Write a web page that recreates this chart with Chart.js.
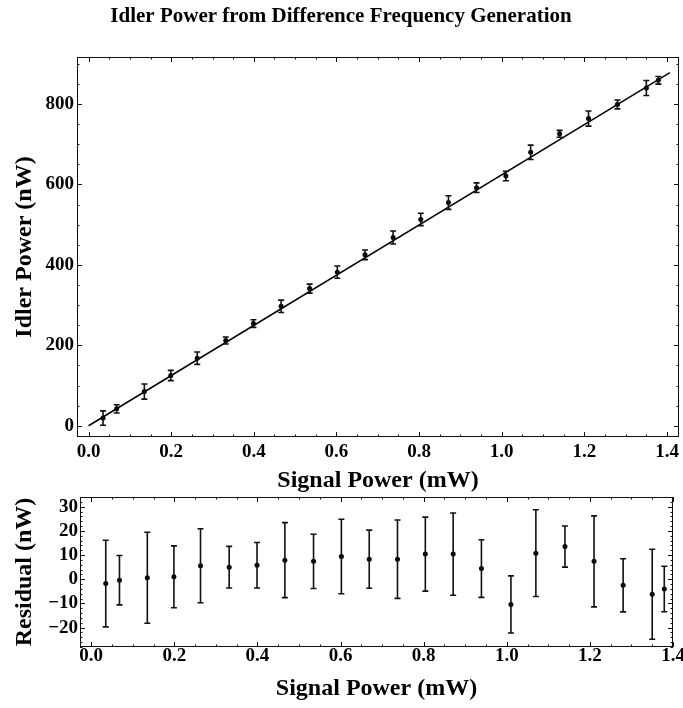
<!DOCTYPE html>
<html>
<head>
<meta charset="utf-8">
<script src="https://cdn.jsdelivr.net/npm/chart.js@4"></script>
<style>
body { margin: 0; background: #fff; }
canvas { position: absolute; left: 0; }
#idler-chart { top: 0; }
#residual-chart { top: 490px; }
</style>
</head>
<body>
<canvas id="idler-chart" width="683" height="500"></canvas>
<canvas id="residual-chart" width="683" height="218"></canvas>
<script>
// measured points (signal in mW, idler in nW)
const signalPower = [0.035, 0.068, 0.135, 0.199, 0.263, 0.332, 0.399, 0.466, 0.535, 0.602, 0.669,
                     0.737, 0.804, 0.871, 0.939, 1.010, 1.070, 1.140, 1.210, 1.280, 1.350, 1.379];
const idlerPower = [19, 42, 85, 125, 168, 212, 254, 297, 341, 382, 425,
                    468, 513, 555, 592, 621, 680, 726, 764, 799, 840, 859];
const residual = [-1.8, -0.4, 0.6, 1.0, 5.6, 5.0, 5.8, 7.9, 7.4, 9.4, 8.3,
                  8.3, 10.4, 10.4, 4.4, -10.4, 10.8, 13.5, 7.4, -2.5, -6.2, -4.0];
const measurementError = [17.9, 10.2, 18.8, 12.8, 15.3, 8.6, 9.4, 15.5, 11.2, 15.4, 12.0,
                          16.2, 15.3, 17.0, 11.9, 11.8, 17.9, 8.5, 18.8, 11.0, 18.6, 9.4];

// fitted line endpoints
const fitSignal = [0, 1.407];
const fitIdler = [0, 878];

// tick labels
const signalTicks = [0, 0.2, 0.4, 0.6, 0.8, 1.0, 1.2, 1.4];
const idlerTicks = [0, 200, 400, 600, 800];
const residualTicks = [-20, -10, 0, 10, 20, 30];

const serif = "'Liberation Serif', 'DejaVu Serif', serif";

function setTicks(list) {
    return scale => { scale.ticks = list.map(v => ({value: v})); };
}

// box round the plot with inward ticks on all four sides
const frame = {
    id: 'frame',
    afterDraw(chart, args, opts) {
        const {ctx, chartArea: a, scales: {x, y}} = chart;
        ctx.save();
        ctx.strokeStyle = '#111';
        ctx.lineWidth = 1;
        ctx.strokeRect(a.left + 0.5, a.top + 0.5, a.right - a.left - 1, a.bottom - a.top - 1);
        ctx.beginPath();
        for (let k = Math.ceil(x.min / opts.xMinor); k * opts.xMinor <= x.max + 1e-9; k++) {
            const v = k * opts.xMinor;
            const major = x.ticks.some(t => Math.abs(t.value - v) < 1e-6);
            const len = major ? 5 : 2.5;
            const px = Math.round(x.getPixelForValue(v)) + 0.5;
            ctx.moveTo(px, a.bottom); ctx.lineTo(px, a.bottom - len);
            ctx.moveTo(px, a.top); ctx.lineTo(px, a.top + len);
        }
        for (let k = Math.ceil(y.min / opts.yMinor); k * opts.yMinor <= y.max + 1e-9; k++) {
            const v = k * opts.yMinor;
            const major = y.ticks.some(t => Math.abs(t.value - v) < 1e-6);
            const len = major ? 5 : 2.5;
            const py = Math.round(y.getPixelForValue(v)) + 0.5;
            ctx.moveTo(a.left, py); ctx.lineTo(a.left + len, py);
            ctx.moveTo(a.right, py); ctx.lineTo(a.right - len, py);
        }
        ctx.stroke();
        ctx.restore();
    }
};

const errorBars = {
    id: 'errorBars',
    afterDatasetsDraw(chart) {
        const {ctx, scales: {x, y}} = chart;
        chart.data.datasets.forEach(ds => {
            if (!ds.errors) return;
            ctx.save();
            ctx.strokeStyle = '#111';
            ctx.lineWidth = 1.6;
            ds.data.forEach((p, i) => {
                const px = x.getPixelForValue(p.x);
                const top = y.getPixelForValue(p.y + ds.errors[i]);
                const bot = y.getPixelForValue(p.y - ds.errors[i]);
                ctx.beginPath();
                ctx.moveTo(px, top); ctx.lineTo(px, bot);
                ctx.moveTo(px - 3, top); ctx.lineTo(px + 3, top);
                ctx.moveTo(px - 3, bot); ctx.lineTo(px + 3, bot);
                ctx.stroke();
            });
            ctx.restore();
        });
    }
};

const tickFont = {family: serif, size: 19, weight: 'bold', lineHeight: 1};
const titleFont = {family: serif, size: 24, weight: 'bold'};

new Chart(document.getElementById('idler-chart'), {
    type: 'scatter',
    data: {
        datasets: [{
            type: 'line',
            data: fitSignal.map((s, i) => ({x: s, y: fitIdler[i]})),
            borderColor: '#000',
            borderWidth: 1.5,
            pointRadius: 0,
            fill: false
        }, {
            data: signalPower.map((s, i) => ({x: s, y: idlerPower[i]})),
            errors: measurementError,
            pointRadius: 2.5,
            backgroundColor: '#000',
            borderWidth: 0
        }]
    },
    options: {
        responsive: false,
        animation: false,
        layout: {padding: {left: 0, right: 1, top: 0, bottom: 0}},
        plugins: {
            legend: {display: false},
            tooltip: {enabled: false},
            title: {
                display: true,
                text: 'Idler Power from Difference Frequency Generation',
                color: '#000',
                font: {family: serif, size: 21, weight: 'bold'},
                padding: {top: 3.6, bottom: 28.2}
            },
            frame: {xMinor: 0.05, yMinor: 50}
        },
        scales: {
            x: {
                type: 'linear',
                min: -0.028,
                max: 1.429,
                grid: {display: false, drawTicks: false},
                border: {display: false},
                afterBuildTicks: setTicks(signalTicks),
                ticks: {color: '#000', font: tickFont, padding: 6, maxRotation: 0,
                        callback: v => v.toFixed(1)},
                title: {display: true, text: 'Signal Power (mW)', color: '#000', font: titleFont,
                        padding: {top: 0, bottom: 4.6}},
                afterFit(s) { s.height = 63; s.paddingLeft = 0; s.paddingRight = 0; }
            },
            y: {
                min: -28,
                max: 917,
                grid: {display: false, drawTicks: false},
                border: {display: false},
                afterBuildTicks: setTicks(idlerTicks),
                ticks: {color: '#000', font: tickFont, padding: 3},
                title: {display: true, text: 'Idler Power (nW)', color: '#000', font: titleFont,
                        padding: {top: 10.6, bottom: 0}},
                afterFit(s) { s.width = 77; s.paddingTop = 0; s.paddingBottom = 0; }
            }
        }
    },
    plugins: [frame, errorBars]
});

new Chart(document.getElementById('residual-chart'), {
    type: 'scatter',
    data: {
        datasets: [{
            data: signalPower.map((s, i) => ({x: s, y: residual[i]})),
            errors: measurementError,
            pointRadius: 2.5,
            backgroundColor: '#000',
            borderWidth: 0
        }]
    },
    options: {
        responsive: false,
        animation: false,
        layout: {padding: {left: 0, right: 10, top: 7, bottom: 0}},
        plugins: {
            legend: {display: false},
            tooltip: {enabled: false},
            frame: {xMinor: 0.05, yMinor: 2}
        },
        scales: {
            x: {
                type: 'linear',
                min: -0.027,
                max: 1.4,
                grid: {display: false, drawTicks: false},
                border: {display: false},
                afterBuildTicks: setTicks(signalTicks),
                ticks: {color: '#000', font: tickFont, padding: 0, maxRotation: 0,
                        callback: v => v.toFixed(1)},
                title: {display: true, text: 'Signal Power (mW)', color: '#000', font: titleFont,
                        padding: {top: 0, bottom: 5.1}},
                afterFit(s) { s.height = 61; s.paddingLeft = 0; s.paddingRight = 0; }
            },
            y: {
                min: -28,
                max: 34,
                grid: {display: false, drawTicks: false},
                border: {display: false},
                afterBuildTicks: setTicks(residualTicks),
                ticks: {color: '#000', font: tickFont, padding: 2,
                        callback: v => v < 0 ? '\u2212' + Math.abs(v) : String(v)},
                title: {display: true, text: 'Residual (nW)', color: '#000', font: titleFont,
                        padding: {top: 10.6, bottom: 0}},
                afterFit(s) { s.width = 80; s.paddingTop = 0; s.paddingBottom = 0; }
            }
        }
    },
    plugins: [frame, errorBars]
});
</script>
</body>
</html>
